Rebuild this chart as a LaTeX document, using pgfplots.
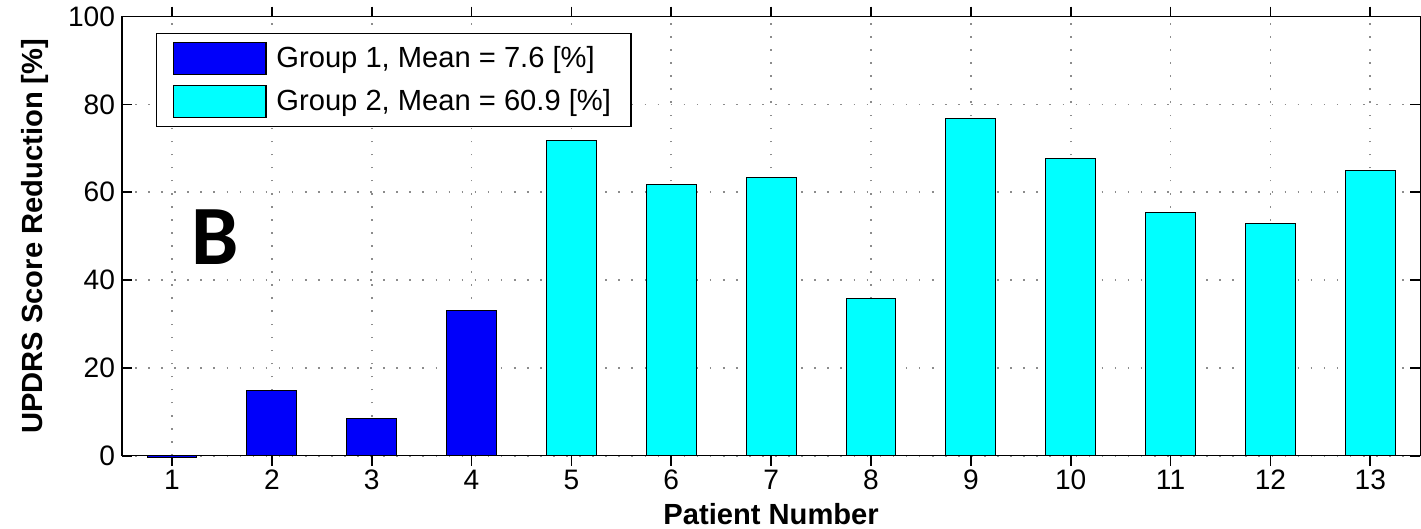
\documentclass[border=0pt]{standalone}
\usepackage{pgfplots}
\pgfplotsset{compat=1.18}
\usepackage{fontspec}
\setmainfont{Liberation Sans}
\newfontfamily\calib{Carlito}
\definecolor{gblue}{RGB}{0,0,250}
\definecolor{gcyan}{RGB}{0,255,255}
\begin{document}
\begin{tikzpicture}
\begin{axis}[
  scale only axis,
  width=646pt, height=218.5pt,
  xmin=0.5, xmax=13.5, ymin=0, ymax=100,
  clip=false,
  xtick={1,...,13}, ytick={0,20,40,60,80,100},
  tick align=inside, tick pos=both,
  major tick length=5pt,
  tick style={black, line width=0.8pt},
  axis line style={black, line width=0.6pt},
  grid=major,
  grid style={gray!90, line width=0.8pt, dash pattern=on 0.8pt off 5.7pt},
  ticklabel style={font=\fontsize{14}{16}\selectfont},
  xticklabel style={yshift=1.5pt},
  /pgf/number format/assume math mode=true,
  xlabel={\bfseries Patient Number},
  ylabel={\bfseries UPDRS Score Reduction [\%]},
  label style={font=\fontsize{14.5}{17}\selectfont},
  xlabel style={at={(axis description cs:0.5,-0.1327)}, anchor=center, inner sep=2pt},
  ylabel style={at={(axis description cs:-0.0673,0.5)}, anchor=center, inner xsep=0pt, inner ysep=10.5pt},
  ybar, bar width=0.5, bar shift=0pt,
  legend style={at={(0.0263,0.963)}, anchor=north west, draw=black, line width=0.6pt,
    font=\fontsize{14.5}{17}\selectfont, row sep=5pt, inner xsep=8pt, inner ysep=4pt,
    cells={anchor=west}},
  legend image code/.code={\draw[#1, line width=0.6pt] (0pt,-8pt) rectangle (46pt,8pt);
    \path (49pt,0pt);},
]
\addplot[fill=gblue, draw=black, line width=0.5pt] coordinates {(1,-0.5) (2,14.9) (3,8.5) (4,33.0)};
\addlegendentry{Group 1, Mean = 7.6 [\%]}
\addplot[fill=gcyan, draw=black, line width=0.5pt] coordinates {(5,71.9) (6,61.8) (7,63.4) (8,35.7) (9,76.7) (10,67.7) (11,55.4) (12,52.9) (13,65.0)};
\addlegendentry{Group 2, Mean = 60.9 [\%]}
\node[font=\calib\bfseries\fontsize{42}{48}\selectfont, inner sep=0pt] at (axis cs:1.43,49.9) {B};
\end{axis}
\end{tikzpicture}
\end{document}
